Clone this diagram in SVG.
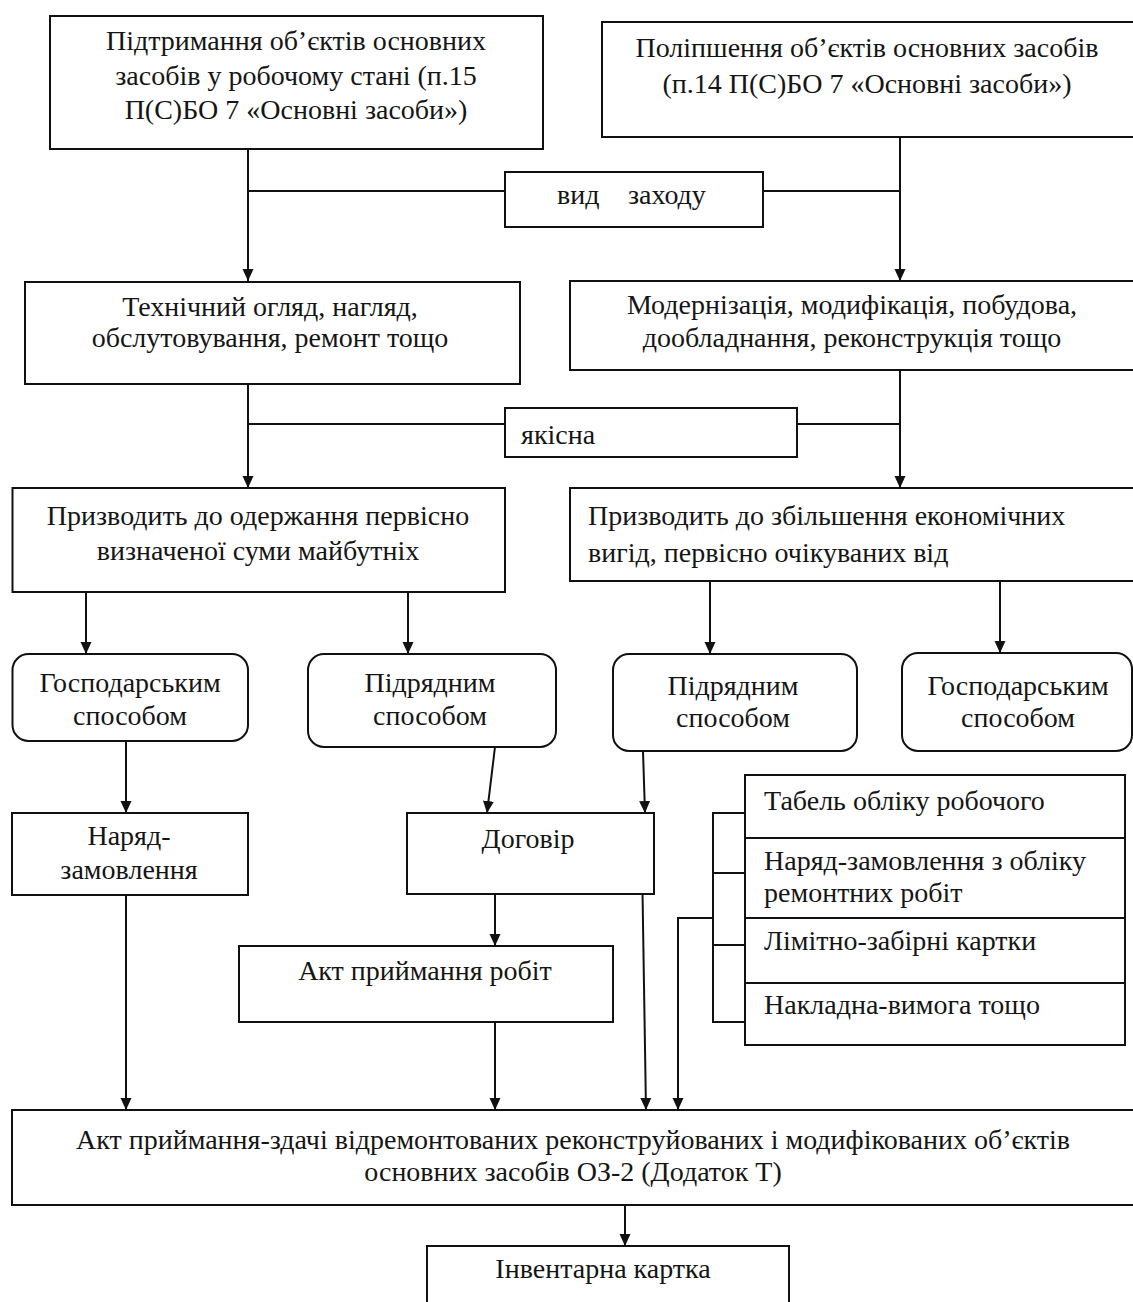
<svg xmlns="http://www.w3.org/2000/svg" width="1133" height="1302" viewBox="0 0 1133 1302">
<style>
.b{fill:#fff;stroke:#111;stroke-width:2}
.t{font-family:"Liberation Serif","Times New Roman",serif;font-size:28px;fill:#151515}
.c{text-anchor:middle}
.k{fill:none;stroke:#111;stroke-width:2}
.a{fill:none;stroke:#111;stroke-width:2;marker-end:url(#ah)}
</style>
<defs>
<marker id="ah" markerUnits="userSpaceOnUse" markerWidth="12" markerHeight="12" refX="12" refY="6" orient="auto">
<path d="M0,0.5 L12,6 L0,11.5 z" fill="#111"/>
</marker>
</defs>
<rect width="1133" height="1302" fill="#fff"/>
<g id="connectors">
<path class="a" d="M248,149 V281"/>
<path class="k" d="M248,191 H505"/>
<path class="a" d="M900,137 V281"/>
<path class="k" d="M763,191 H900"/>
<path class="a" d="M248,384 V488"/>
<path class="k" d="M248,424 H505"/>
<path class="a" d="M900,370 V488"/>
<path class="k" d="M797,424 H900"/>
<path class="a" d="M86,592 V654"/>
<path class="a" d="M408,592 V654"/>
<path class="a" d="M710,581 V654"/>
<path class="a" d="M1000,581 V653"/>
<path class="a" d="M126,741 V813"/>
<path class="a" d="M495,747 L487,813"/>
<path class="a" d="M642.5,736 L645,813"/>
<path class="a" d="M126,895 V1110"/>
<path class="a" d="M495,894 V946"/>
<path class="a" d="M495,1022 V1110"/>
<path class="a" d="M642.5,892 L646,1110"/>
<path class="k" d="M745,813 H713 V1022 H745 M713,873 H745 M713,945 H745"/>
<path class="a" d="M713,918 H678 V1110"/>
<path class="a" d="M625,1205 V1246"/>
</g>
<g id="n1"><rect class="b" x="50" y="16" width="493" height="133"/>
<text class="t c" x="296" y="50">Підтримання об’єктів основних</text>
<text class="t c" x="296" y="85">засобів у робочому стані (п.15</text>
<text class="t c" x="296" y="119">П(С)БО 7 «Основні засоби»)</text></g>
<g id="n2"><rect class="b" x="602" y="22" width="545" height="115"/>
<text class="t c" x="867" y="57">Поліпшення об’єктів основних засобів</text>
<text class="t c" x="867" y="93">(п.14 П(С)БО 7 «Основні засоби»)</text></g>
<g id="n_vid"><rect class="b" x="505" y="172" width="258" height="55"/>
<text class="t" y="204"><tspan x="557">вид</tspan><tspan x="628">заходу</tspan></text></g>
<g id="n3"><rect class="b" x="25" y="282" width="495" height="102"/>
<text class="t c" x="270" y="316">Технічний огляд, нагляд,</text>
<text class="t c" x="270" y="347">обслутовування, ремонт тощо</text></g>
<g id="n4"><rect class="b" x="570" y="281" width="580" height="89"/>
<text class="t c" x="852" y="314">Модернізація, модифікація, побудова,</text>
<text class="t c" x="852" y="347">дообладнання, реконструкція тощо</text></g>
<g id="n_yak"><rect class="b" x="505" y="408" width="292" height="49"/>
<text class="t" x="521" y="444">якісна</text></g>
<g id="n5"><rect class="b" x="12.5" y="488" width="492.5" height="104"/>
<text class="t c" x="258" y="525">Призводить до одержання первісно</text>
<text class="t c" x="258" y="560">визначеної суми майбутніх</text></g>
<g id="n6"><rect class="b" x="570" y="488" width="580" height="93"/>
<text class="t" x="588" y="525">Призводить до збільшення економічних</text>
<text class="t" x="588" y="562">вигід, первісно очікуваних від</text></g>
<g id="n7"><rect class="b" x="12.5" y="654" width="235.5" height="87" rx="16"/>
<text class="t c" x="130" y="692">Господарським</text>
<text class="t c" x="130" y="725">способом</text></g>
<g id="n8"><rect class="b" x="308" y="654" width="248" height="93" rx="16"/>
<text class="t c" x="430" y="692">Підрядним</text>
<text class="t c" x="430" y="725">способом</text></g>
<g id="n9"><rect class="b" x="613" y="654" width="244" height="97" rx="16"/>
<text class="t c" x="733" y="695">Підрядним</text>
<text class="t c" x="733" y="727">способом</text></g>
<g id="n10"><rect class="b" x="902" y="653" width="230" height="98" rx="16"/>
<text class="t c" x="1018" y="695">Господарським</text>
<text class="t c" x="1018" y="727">способом</text></g>
<g id="n11"><rect class="b" x="12" y="813" width="236" height="82"/>
<text class="t c" x="129" y="845">Наряд-</text>
<text class="t c" x="129" y="879">замовлення</text></g>
<g id="n12"><rect class="b" x="407" y="813" width="247" height="81"/>
<text class="t c" x="528" y="848">Договір</text></g>
<g id="n13"><rect class="b" x="239" y="946" width="374" height="76"/>
<text class="t c" x="425" y="980">Акт приймання робіт</text></g>
<g id="n14"><rect class="b" x="745" y="775" width="380" height="270"/>
<path class="k" d="M745,838 H1125 M745,918 H1125 M745,983 H1125"/>
<text class="t" x="764" y="810">Табель обліку робочого</text>
<text class="t" x="764" y="870">Наряд-замовлення з обліку</text>
<text class="t" x="764" y="902">ремонтних робіт</text>
<text class="t" x="764" y="950">Лімітно-забірні картки</text>
<text class="t" x="764" y="1014">Накладна-вимога тощо</text></g>
<g id="n15"><rect class="b" x="12" y="1110" width="1130" height="95"/>
<text class="t c" x="573" y="1149">Акт приймання-здачі відремонтованих реконструйованих і модифікованих об’єктів</text>
<text class="t c" x="573" y="1181">основних засобів ОЗ-2 (Додаток Т)</text></g>
<g id="n16"><rect class="b" x="427" y="1246" width="362" height="70"/>
<text class="t c" x="603" y="1278">Інвентарна картка</text></g>
</svg>
